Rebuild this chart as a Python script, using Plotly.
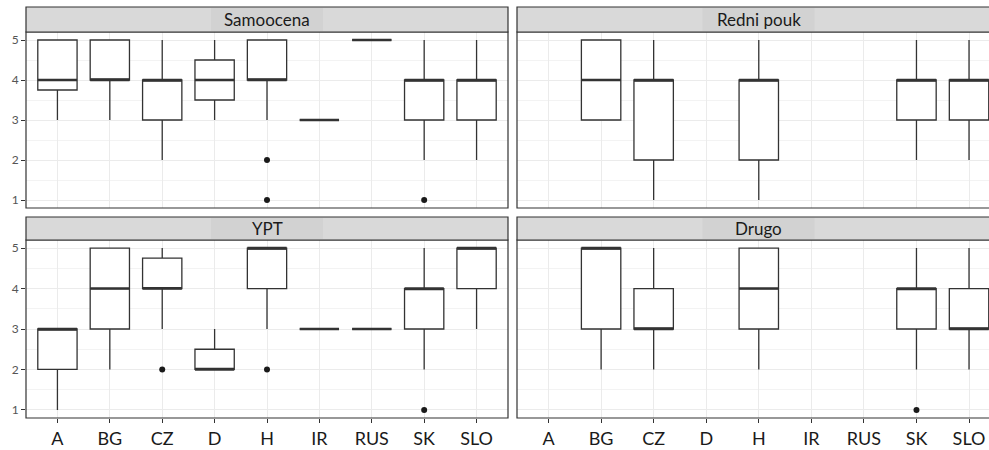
import plotly.graph_objects as go

W, H = 989, 450

categories = ["A", "BG", "CZ", "D", "H", "IR", "RUS", "SK", "SLO"]
panels = ["Samoocena", "Redni pouk", "YPT", "Drugo"]

# per panel: category -> (lower whisker, q1, median, q3, upper whisker)
samoocena_cat = ["A", "BG", "CZ", "D", "H", "IR", "RUS", "SK", "SLO"]
samoocena_low = [3, 3, 2, 3, 3, 3, 5, 2, 2]
samoocena_q1 = [3.75, 4, 3, 3.5, 4, 3, 5, 3, 3]
samoocena_med = [4, 4, 4, 4, 4, 3, 5, 4, 4]
samoocena_q3 = [5, 5, 4, 4.5, 5, 3, 5, 4, 4]
samoocena_high = [5, 5, 5, 5, 5, 3, 5, 5, 5]
samoocena_out_cat = ["H", "H", "SK"]
samoocena_out_val = [2, 1, 1]

redni_cat = ["BG", "CZ", "H", "SK", "SLO"]
redni_low = [3, 1, 1, 2, 2]
redni_q1 = [3, 2, 2, 3, 3]
redni_med = [4, 4, 4, 4, 4]
redni_q3 = [5, 4, 4, 4, 4]
redni_high = [5, 5, 5, 5, 5]
redni_out_cat = []
redni_out_val = []

ypt_cat = ["A", "BG", "CZ", "D", "H", "IR", "RUS", "SK", "SLO"]
ypt_low = [1, 2, 3, 2, 3, 3, 3, 2, 3]
ypt_q1 = [2, 3, 4, 2, 4, 3, 3, 3, 4]
ypt_med = [3, 4, 4, 2, 5, 3, 3, 4, 5]
ypt_q3 = [3, 5, 4.75, 2.5, 5, 3, 3, 4, 5]
ypt_high = [3, 5, 5, 3, 5, 3, 3, 5, 5]
ypt_out_cat = ["CZ", "H", "SK"]
ypt_out_val = [2, 2, 1]

drugo_cat = ["BG", "CZ", "H", "SK", "SLO"]
drugo_low = [2, 2, 2, 2, 2]
drugo_q1 = [3, 3, 3, 3, 3]
drugo_med = [5, 3, 4, 4, 3]
drugo_q3 = [5, 4, 5, 4, 4]
drugo_high = [5, 5, 5, 5, 5]
drugo_out_cat = ["SK"]
drugo_out_val = [1]

yticks = [1, 2, 3, 4, 5]

data_sets = [
    (samoocena_cat, samoocena_low, samoocena_q1, samoocena_med, samoocena_q3, samoocena_high, samoocena_out_cat, samoocena_out_val),
    (redni_cat, redni_low, redni_q1, redni_med, redni_q3, redni_high, redni_out_cat, redni_out_val),
    (ypt_cat, ypt_low, ypt_q1, ypt_med, ypt_q3, ypt_high, ypt_out_cat, ypt_out_val),
    (drugo_cat, drugo_low, drugo_q1, drugo_med, drugo_q3, drugo_high, drugo_out_cat, drugo_out_val),
]

# pixel layout
px_x = [(26, 508), (517, 989), (26, 508), (517, 989)]
px_y = [(32, 208), (32, 208), (240, 418), (240, 418)]
strip_y = [(7, 32), (7, 32), (217, 240), (217, 240)]
xranges = [[-0.6, 8.6], [-0.6, 8.38], [-0.6, 8.6], [-0.6, 8.38]]

LINE = "#333333"
BOXW = 0.75
FONT = "Lato, 'Open Sans', sans-serif"

fig = go.Figure()
layout = {}
shapes = []
annotations = []

for i, (cats, low, q1, med, q3, high, ocat, oval) in enumerate(data_sets):
    n = i + 1
    xa = "x" if n == 1 else f"x{n}"
    ya = "y" if n == 1 else f"y{n}"
    xi = [categories.index(c) for c in cats]
    fig.add_trace(go.Box(
        x=xi, q1=q1, median=med, q3=q3, lowerfence=low, upperfence=high,
        xaxis=xa, yaxis=ya, width=BOXW, whiskerwidth=0,
        fillcolor="white", line=dict(color=LINE, width=1.3),
        boxpoints=False, showlegend=False, hoverinfo="skip"))
    # thicker median segments
    mx, my = [], []
    for c, m in zip(xi, med):
        mx += [c - BOXW / 2, c + BOXW / 2, None]
        my += [m, m, None]
    fig.add_trace(go.Scatter(x=mx, y=my, mode="lines", xaxis=xa, yaxis=ya,
                             line=dict(color=LINE, width=2.6), showlegend=False, hoverinfo="skip"))
    if ocat:
        fig.add_trace(go.Scatter(x=[categories.index(c) for c in ocat], y=oval, mode="markers",
                                 xaxis=xa, yaxis=ya, marker=dict(color="#1a1a1a", size=6),
                                 showlegend=False, hoverinfo="skip"))

    x0, x1 = px_x[i]
    y0, y1 = px_y[i]
    bottom_row = i >= 2
    left_col = i % 2 == 0
    layout["xaxis" if n == 1 else f"xaxis{n}"] = dict(
        domain=[x0 / W, x1 / W], anchor=ya, range=xranges[i],
        tickmode="array", tickvals=list(range(len(categories))),
        ticktext=categories if bottom_row else [""] * len(categories),
        showticklabels=bottom_row,
        ticks="outside" if bottom_row else "", ticklen=4, tickcolor=LINE, tickwidth=1,
        showgrid=True, gridcolor="#EBEBEB", gridwidth=1,
        zeroline=False, showline=False,
        tickfont=dict(family=FONT, size=18, color="#1a1a1a"),
        fixedrange=True)
    layout["yaxis" if n == 1 else f"yaxis{n}"] = dict(
        domain=[1 - y1 / H, 1 - y0 / H], anchor=xa, range=[0.8, 5.2],
        tickmode="array", tickvals=yticks, ticktext=[str(t) for t in yticks],
        showticklabels=left_col,
        ticks="outside" if left_col else "", ticklen=4, tickcolor=LINE, tickwidth=1,
        showgrid=True, gridcolor="#EBEBEB", gridwidth=1,
        minor=dict(tickvals=[1.5, 2.5, 3.5, 4.5], showgrid=True, gridcolor="#F3F3F3", gridwidth=1, ticks=""),
        zeroline=False, showline=False,
        tickfont=dict(family=FONT, size=12, color="#555555"),
        fixedrange=True)

    # panel border
    shapes.append(dict(type="rect", xref="paper", yref="paper",
                       x0=x0 / W, x1=(x1 + (0 if left_col else 12)) / W,
                       y0=1 - y1 / H, y1=1 - y0 / H,
                       line=dict(color=LINE, width=1.2), fillcolor="rgba(0,0,0,0)", layer="above"))
    # strip
    sy0, sy1 = strip_y[i]
    shapes.append(dict(type="rect", xref="paper", yref="paper",
                       x0=x0 / W, x1=(x1 + (0 if left_col else 12)) / W,
                       y0=1 - sy1 / H, y1=1 - sy0 / H,
                       line=dict(color=LINE, width=1.2), fillcolor="#D9D9D9", layer="above"))
    cx = (x0 + (x1 if left_col else 1000)) / 2
    shapes.append(dict(type="rect", xref="paper", yref="paper",
                       x0=(cx - 56) / W, x1=(cx + 56) / W,
                       y0=1 - (sy1 - 1) / H, y1=1 - (sy0 + 1) / H,
                       line=dict(width=0), fillcolor="#D2D2D2", layer="above"))
    annotations.append(dict(text=panels[i], xref="paper", yref="paper",
                            x=cx / W, y=1 - (sy0 + sy1) / 2 / H, xanchor="center", yanchor="middle",
                            showarrow=False, font=dict(family=FONT, size=17, color="#1a1a1a")))

fig.update_layout(
    width=W, height=H, margin=dict(l=0, r=0, t=0, b=0),
    paper_bgcolor="white", plot_bgcolor="white",
    shapes=shapes, annotations=annotations, **layout)

fig.write_html("out.html", config={"displayModeBar": False},
               post_script="document.body.style.margin='0';document.body.style.overflow='hidden';")
